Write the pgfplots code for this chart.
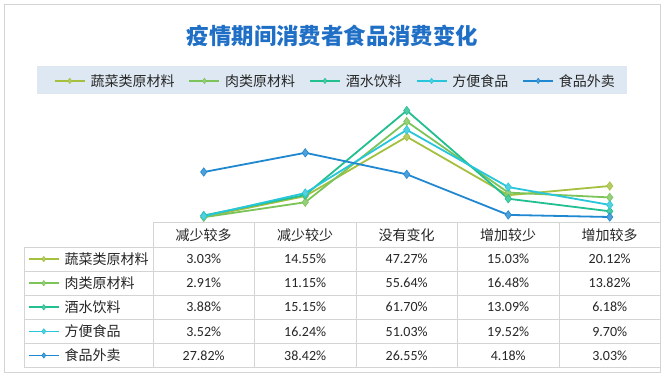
\documentclass[border=0pt]{standalone}
\usepackage{fontspec}
\setmainfont{Carlito}
\newfontfamily\cjk{Noto Sans CJK SC}
\usepackage{pgfplots}
\usepackage{pgfplotstable}
\pgfplotsset{compat=1.18}
\definecolor{cA}{HTML}{A4C03E}
\definecolor{cB}{HTML}{7CC45A}
\definecolor{cC}{HTML}{22BF90}
\definecolor{cD}{HTML}{28C6DA}
\definecolor{cE}{HTML}{2088D0}
\definecolor{titleblue}{HTML}{1F6FC6}
\definecolor{bandcol}{HTML}{DEE8F3}
\definecolor{gridcol}{HTML}{D4D4D4}
\definecolor{txtcol}{HTML}{262626}

\pgfplotstableread{
x veg meat drink conv deliv
0 3.03 2.91 3.88 3.52 27.82
1 14.55 11.15 15.15 16.24 38.42
2 47.27 55.64 61.70 51.03 26.55
3 15.03 16.48 13.09 19.52 4.18
4 20.12 13.82 6.18 9.70 3.03
}\datatab

\pgfplotsset{
  legend image code/.code={\draw[mark repeat=2,mark phase=2,#1,mark size=2.6pt,line width=1.6pt] plot coordinates {(0pt,0pt) (15pt,0pt) (30pt,0pt)};},
  ser/.style={color=#1, line width=1.8pt, mark=diamond*, mark size=4.2pt, mark options={fill=#1!80!white, draw=#1, line width=0.6pt}},
}

\begin{document}
\begin{tikzpicture}[x=1pt,y=1pt]
\fill[white] (0,0) rectangle (666,-377);
\draw[gridcol, line width=0.8pt] (4.5,-4.5) rectangle (660.5,-372.5);
\node[font=\cjk\bfseries\fontsize{22.4}{26}\selectfont, text=titleblue] at (332.5,-36) {疫情期间消费者食品消费变化};
\fill[bandcol] (37,-66) rectangle (627,-94);
% table grid
\begin{scope}[draw=gridcol, line width=0.7pt]
\draw (153,-222.5) -- (660.5,-222.5);
\foreach \y in {247,271.1,295.2,319.3,343.4,367.5} \draw (24,-\y) -- (660.5,-\y);
\draw (24,-247) -- (24,-367.5);
\foreach \x in {153,254.5,356,457.5,559,660.5} \draw (\x,-222.5) -- (\x,-367.5);
\end{scope}
% header
\begin{scope}[font=\cjk\fontsize{14}{16}\selectfont, text=txtcol]
\node at (203.7,-235) {减少较多};
\node at (305.2,-235) {减少较少};
\node at (406.7,-235) {没有变化};
\node at (508.2,-235) {增加较少};
\node at (609.7,-235) {增加较多};
\end{scope}
\begin{scope}[font=\fontsize{14}{16}\selectfont, text=txtcol]
\foreach \a/\b/\c/\d/\e [count=\i from 0] in {3.03/14.55/47.27/15.03/20.12, 2.91/11.15/55.64/16.48/13.82, 3.88/15.15/61.70/13.09/6.18, 3.52/16.24/51.03/19.52/9.70, 27.82/38.42/26.55/4.18/3.03}{
  \pgfmathsetmacro{\yy}{-259.05-24.1*\i}
  \node at (203.7,\yy) {\a\%};
  \node at (305.2,\yy) {\b\%};
  \node at (406.7,\yy) {\c\%};
  \node at (508.2,\yy) {\d\%};
  \node at (609.7,\yy) {\e\%};
}
\end{scope}

\begin{axis}[at={(153pt,-222.5pt)}, anchor=south west, scale only axis,
  width=507.5pt, height=127pt, xmin=-0.5, xmax=4.5, ymin=0, ymax=70,
  hide axis, clip=false,
  legend columns=5,
  legend style={at={(axis description cs:-0.1951,1.115)}, anchor=west,
    draw=none, fill=none, inner sep=0pt, outer sep=0pt,
    font=\cjk\fontsize{14}{16}\selectfont, text=txtcol,
    nodes={inner sep=0pt},
    /tikz/every odd column/.append style={column sep=5pt},
    /tikz/every even column/.append style={column sep=14pt}},
]
\addplot[ser=cA] table[x=x,y=veg] {\datatab};
\addlegendentry{蔬菜类原材料}
\addplot[ser=cB] table[x=x,y=meat] {\datatab};
\addlegendentry{肉类原材料}
\addplot[ser=cC] table[x=x,y=drink] {\datatab};
\addlegendentry{酒水饮料}
\addplot[ser=cD] table[x=x,y=conv] {\datatab};
\addlegendentry{方便食品}
\addplot[ser=cE] table[x=x,y=deliv] {\datatab};
\addlegendentry{食品外卖}
\end{axis}

\begin{axis}[at={(28pt,-367.5pt)}, anchor=south west, scale only axis,
  width=124pt, height=120.5pt, xmin=0, xmax=1, ymin=0, ymax=1,
  hide axis, legend cell align=left,
  legend style={at={(axis description cs:0,1)}, anchor=north west,
    draw=none, fill=none, inner sep=0pt, outer sep=0pt, row sep=0pt,
    font=\cjk\fontsize{14}{16}\selectfont, text=txtcol,
    nodes={inner sep=0pt, minimum height=24.1pt},
    /tikz/every odd column/.append style={column sep=5pt}},
]
\addlegendimage{ser=cA}\addlegendentry{蔬菜类原材料}
\addlegendimage{ser=cB}\addlegendentry{肉类原材料}
\addlegendimage{ser=cC}\addlegendentry{酒水饮料}
\addlegendimage{ser=cD}\addlegendentry{方便食品}
\addlegendimage{ser=cE}\addlegendentry{食品外卖}
\end{axis}
\end{tikzpicture}
\end{document}
